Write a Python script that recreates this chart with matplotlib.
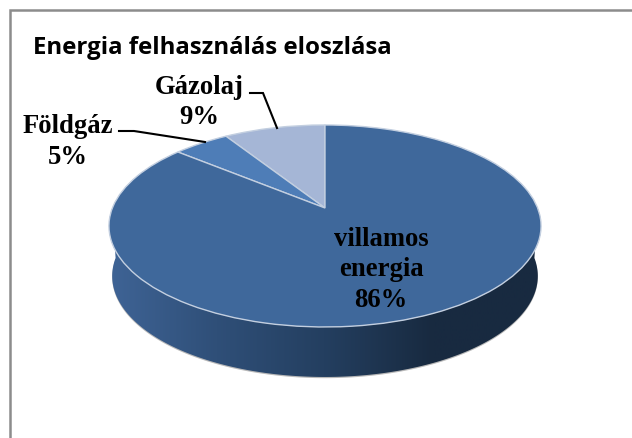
import numpy as np
import matplotlib
matplotlib.use('Agg')
import matplotlib.pyplot as plt
from matplotlib.colors import LinearSegmentedColormap
from matplotlib.patches import Polygon
from matplotlib.transforms import Transform

labels = ['Gázolaj', 'Földgáz', 'villamos\nenergia']
values = [9, 5, 86]
percent_labels = ['9%', '5%', '86%']
colors = ['#a5b6d6', '#4e7db7', '#3f689b']
title = 'Energia felhasználás eloszlása'

W, H = 632, 439
CX, CY = 325, 209      # pie tip in pixels
RX, RY = 212.6, 97.8   # projected radii
TILT = 0.178           # perspective of the tilted disc
DEPTH = 50


class TiltedPie(Transform):
    # maps the flat unit pie onto the tilted disc, in pixel coordinates
    input_dims = 2
    output_dims = 2

    def transform_non_affine(self, values):
        u, v = values[:, 0], values[:, 1]
        w = 1 + TILT * v
        return np.column_stack([CX + RX * u / w, CY - RY * v / w])


fig = plt.figure(figsize=(W / 100, H / 100), dpi=100)
ax = fig.add_axes([0, 0, 1, 1])

wedges, _ = ax.pie(values, startangle=90, counterclock=True, colors=colors,
                   wedgeprops={'edgecolor': '#c3cfe0', 'linewidth': 1.0})
ax.set_aspect('auto')
ax.axis('off')

for wedge in wedges:
    wedge.set_transform(TiltedPie() + ax.transData)
    wedge.set_zorder(4)

# Chart frame, only the left and top edges show
ax.plot([9.5, 9.5, W], [H, 11, 11], color='#8c8c8c', lw=1.8, zorder=1, solid_joinstyle='miter')

# Side wall of the pie: top rim down to a slightly narrower bottom rim
t = np.linspace(np.pi, 2 * np.pi, 200)
rim = TiltedPie().transform(np.column_stack([np.cos(t), np.sin(t)]))
shrink = 0.985
low = np.column_stack([CX + (rim[:, 0] - CX) * shrink, rim[:, 1] + DEPTH])
wall_xy = np.vstack([rim, low[::-1]])
ax.add_patch(Polygon(low + [0, 1.2], closed=True, facecolor='#b9b9b9', edgecolor='none', zorder=2))
wall = Polygon(wall_xy, closed=True, facecolor='none', edgecolor='none', zorder=3)
ax.add_patch(wall)
grad = np.linspace(0, 1, 256)[None, :]
cmap = LinearSegmentedColormap.from_list('wall', ['#3f6496', '#2f4f78', '#243f60', '#182a40', '#182a40'])
im = ax.imshow(grad, extent=[108, 541, H, 0], aspect='auto', cmap=cmap, zorder=3)
im.set_clip_path(wall)
ax.set_xlim(0, W)
ax.set_ylim(H, 0)

# Title
ax.text(33, 47.5, title, fontsize=17.3, fontweight='bold', family='Open Sans',
        va='center', ha='left', color='black', zorder=6)

# Data labels
serif = dict(fontsize=19.2, fontweight='bold', family='Liberation Serif',
             ha='center', va='center', color='black', zorder=6, linespacing=1.3)
ax.text(199, 102.5, labels[0] + '\n' + percent_labels[0], **serif)
ax.text(68, 142, labels[1] + '\n' + percent_labels[1], **serif)
ax.text(381, 270, labels[2] + '\n' + percent_labels[2], **serif)

# Leader lines
ax.plot([250, 263, 277], [94, 94, 129], color='black', lw=1.5, zorder=6, solid_joinstyle='miter')
ax.plot([119, 134, 205], [132, 132, 143], color='black', lw=1.5, zorder=6, solid_joinstyle='miter')

fig.savefig('out.png', dpi=100)
